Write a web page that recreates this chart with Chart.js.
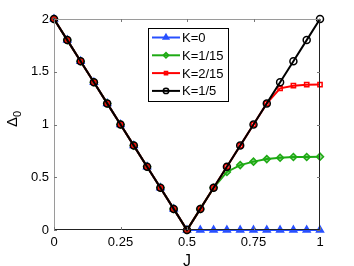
<!DOCTYPE html>
<html>
<head>
<meta charset="utf-8">
<script src="https://cdn.jsdelivr.net/npm/chart.js@4/dist/chart.umd.min.js"></script>
<style>
  html, body { margin: 0; padding: 0; background: #fff; }
  #wrap { width: 354px; height: 266px; }
</style>
</head>
<body>
<div id="wrap"><canvas id="c" width="354" height="266"></canvas></div>
<script>
'use strict';

const J = [0, 0.05, 0.1, 0.15, 0.2, 0.25, 0.3, 0.35, 0.4, 0.45, 0.5,
           0.55, 0.6, 0.65, 0.7, 0.75, 0.8, 0.85, 0.9, 0.95, 1]
const K0   = [2, 1.8, 1.6, 1.4, 1.2, 1, 0.8, 0.6, 0.4, 0.2, 0,
              0, 0, 0, 0, 0, 0, 0, 0, 0, 0]
const K1_15 = [2, 1.8, 1.6, 1.4, 1.2, 1, 0.8, 0.6, 0.4, 0.2, 0,
              0.2, 0.4, 0.55, 0.615, 0.648, 0.672, 0.685, 0.692, 0.692, 0.695]
const K2_15 = [2, 1.8, 1.6, 1.4, 1.2, 1, 0.8, 0.6, 0.4, 0.2, 0,
              0.2, 0.4, 0.6, 0.8, 1.0, 1.2, 1.343, 1.368, 1.377, 1.378]
const K1_5 = [2, 1.8, 1.6, 1.4, 1.2, 1, 0.8, 0.6, 0.4, 0.2, 0,
              0.2, 0.4, 0.6, 0.8, 1.0, 1.2, 1.4, 1.6, 1.8, 2]
const LABELS = ['K=0', 'K=1/15', 'K=2/15', 'K=1/5']
const X_TICKS = [0, 0.25, 0.5, 0.75, 1]
const Y_TICKS = [0, 0.5, 1, 1.5, 2]

const BLUE = 'rgb(40, 80, 255)'
const GREEN = 'rgb(30, 170, 20)'
const RED = 'rgb(255, 0, 0)'
const BLACK = 'rgb(0, 0, 0)'
const FONT = '"Liberation Sans", Arial, sans-serif'

function pts(ys) { return J.map(function (x, i) { return { x: x, y: ys[i] } }) }

const series = [
    { label: LABELS[0], data: K0,    color: BLUE,  style: 'triangle', r: 4,   fill: BLUE },
    { label: LABELS[1], data: K1_15, color: GREEN, style: 'rectRot',  r: 3.5, fill: 'rgba(30,170,20,0.5)' },
    { label: LABELS[2], data: K2_15, color: RED,   style: 'rect',     r: 3,   fill: 'rgba(255,255,255,0)' },
    { label: LABELS[3], data: K1_5,  color: BLACK, style: 'circle',   r: 3.5, fill: 'rgba(255,255,255,0)' }
]

// box, inward ticks, axis titles and the matlab-ish legend
const decor = {
    id: 'decor',
    afterDatasetsDraw(chart) {
        const ctx = chart.ctx
        const a = chart.chartArea
        const xs = chart.scales.x, ys = chart.scales.y
        ctx.save()
        ctx.lineWidth = 1
        // left + top look grey, bottom + right darker
        ctx.strokeStyle = '#9a9a9a'
        ctx.beginPath()
        ctx.moveTo(a.left + 0.5, a.bottom); ctx.lineTo(a.left + 0.5, a.top + 0.5); ctx.lineTo(a.right, a.top + 0.5)
        ctx.stroke()
        ctx.strokeStyle = '#222'
        ctx.beginPath()
        ctx.moveTo(a.left, a.bottom - 0.5); ctx.lineTo(a.right - 0.5, a.bottom - 0.5); ctx.lineTo(a.right - 0.5, a.top)
        ctx.stroke()
        ctx.strokeStyle = '#777'
        ctx.beginPath()
        for (const t of X_TICKS) {
            const px = Math.round(xs.getPixelForValue(t)) + 0.5
            ctx.moveTo(px, a.bottom); ctx.lineTo(px, a.bottom - 3)
            ctx.moveTo(px, a.top); ctx.lineTo(px, a.top + 3)
        }
        for (const t of Y_TICKS) {
            const py = Math.round(ys.getPixelForValue(t)) + 0.5
            ctx.moveTo(a.left, py); ctx.lineTo(a.left + 3, py)
            ctx.moveTo(a.right, py); ctx.lineTo(a.right - 3, py)
        }
        ctx.stroke()

        // axis titles
        ctx.fillStyle = '#000'
        ctx.font = '16px ' + FONT
        ctx.textAlign = 'center'
        ctx.textBaseline = 'alphabetic'
        ctx.fillText('J', (a.left + a.right) / 2, 266)
        ctx.save()
        ctx.translate(17, 127)
        ctx.rotate(-Math.PI / 2)
        ctx.textAlign = 'left'
        ctx.font = '15px ' + FONT
        ctx.fillText('Δ', 0, 0)
        const w = ctx.measureText('Δ').width
        ctx.font = '11px ' + FONT
        ctx.fillText('0', w, 4)
        ctx.restore()

        // legend
        const lx = 148.5, ly = 28.5, lw = 80, lh = 73
        ctx.fillStyle = '#fff'
        ctx.fillRect(lx, ly, lw, lh)
        ctx.strokeStyle = '#000'
        ctx.strokeRect(lx, ly, lw, lh)
        ctx.font = '13px ' + FONT
        ctx.textAlign = 'left'
        ctx.textBaseline = 'middle'
        series.forEach(function (s, i) {
            const yy = 37.5 + i * 17.8
            ctx.strokeStyle = s.color
            ctx.lineWidth = 2
            ctx.beginPath(); ctx.moveTo(152, yy); ctx.lineTo(180, yy); ctx.stroke()
            ctx.fillStyle = s.fill
            ctx.strokeStyle = s.color
            ctx.lineWidth = 1.5
            Chart.helpers.drawPoint(ctx, {
                pointStyle: s.style, radius: s.r - 0.8, borderWidth: 1.5
            }, 166, yy)
            ctx.fillStyle = '#000'
            ctx.fillText(s.label, 182, yy + 1)
        })
        ctx.restore()
    }
}

function plain(v) { return String(v) }

const ctx = document.getElementById('c').getContext('2d')
const chart = new Chart(ctx, {
    type: 'line',
    data: {
        datasets: series.map(function (s, i) {
            return {
                label: s.label,
                data: pts(s.data),
                order: 3 - i,
                borderColor: s.color,
                borderWidth: 2,
                pointStyle: s.style,
                pointRadius: s.r,
                pointBorderWidth: 1.5,
                pointBorderColor: s.color,
                pointBackgroundColor: s.fill,
                tension: 0,
                clip: false
            }
        })
    },
    options: {
        responsive: false,
        animation: false,
        devicePixelRatio: 1,
        layout: { padding: { left: 0, top: 19, right: 34, bottom: 0 } },
        plugins: { legend: { display: false }, tooltip: { enabled: false } },
        scales: {
            x: {
                type: 'linear', min: 0, max: 1,
                afterBuildTicks: function (s) { s.ticks = X_TICKS.map(function (v) { return { value: v } }) },
                afterFit: function (s) { s.height = 36 },
                grid: { display: false, drawTicks: false },
                border: { display: false },
                ticks: { color: '#000', padding: 5, maxRotation: 0, callback: plain, font: { family: FONT, size: 13 } }
            },
            y: {
                type: 'linear', min: 0, max: 2,
                afterBuildTicks: function (s) { s.ticks = Y_TICKS.map(function (v) { return { value: v } }) },
                afterFit: function (s) { s.width = 54 },
                grid: { display: false, drawTicks: false },
                border: { display: false },
                ticks: { color: '#000', padding: 5, callback: plain, font: { family: FONT, size: 13 } }
            }
        }
    },
    plugins: [decor]
})
</script>
</body>
</html>
